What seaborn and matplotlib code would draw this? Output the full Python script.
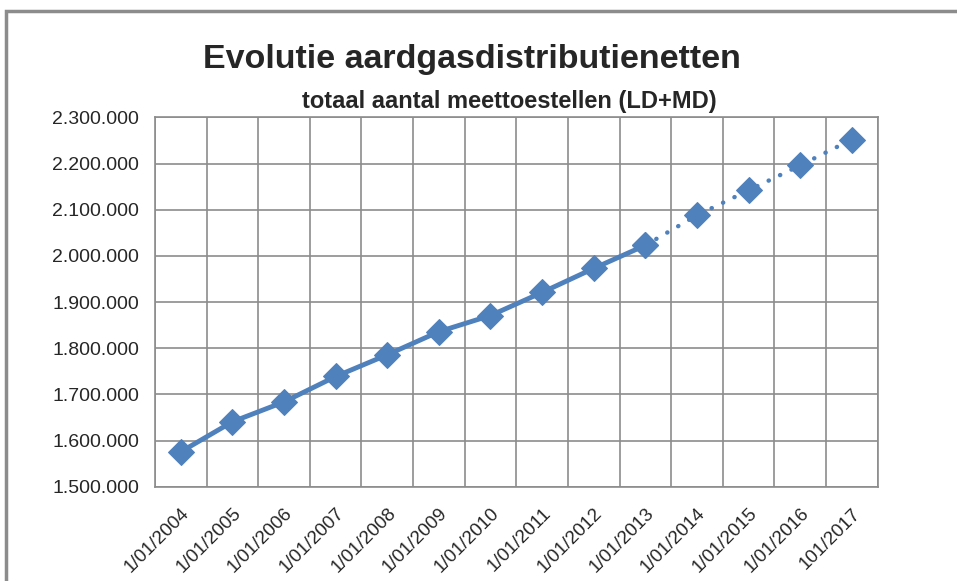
"""
Evolutie aardgasdistributienetten - totaal aantal meettoestellen (LD+MD)
"""

import matplotlib.pyplot as plt
import matplotlib.patches as patches
from matplotlib.ticker import FuncFormatter, FixedLocator
import pandas as pd
import seaborn as sns

# Data
jaren = ["1/01/2004", "1/01/2005", "1/01/2006", "1/01/2007", "1/01/2008",
         "1/01/2009", "1/01/2010", "1/01/2011", "1/01/2012", "1/01/2013",
         "1/01/2014", "1/01/2015", "1/01/2016", "101/2017"]
meettoestellen = [1576000, 1641000, 1684000, 1739000, 1786000,
                  1836000, 1871000, 1921000, 1973000, 2023000,
                  2088000, 2142000, 2196000, 2252000]
laatste_werkelijk = 9  # index 2013: daarna prognose (stippellijn)

sns.set_theme(style="white")
plt.rcParams["font.family"] = ["Liberation Sans", "DejaVu Sans"]

df = pd.DataFrame({"pos": range(len(jaren)), "jaar": jaren, "aantal": meettoestellen})
werkelijk = df[df["pos"] <= laatste_werkelijk]
prognose = df[df["pos"] >= laatste_werkelijk]

blauw = "#4F81BD"
grijs = "#8C8C8C"

fig = plt.figure(figsize=(9.57, 5.81), dpi=100)
ax = fig.add_axes([0.162, 0.162, 0.755, 0.636])

sns.lineplot(data=werkelijk, x="pos", y="aantal", ax=ax, color=blauw,
             linewidth=3.5, marker="D", markersize=13, markeredgecolor=blauw)
sns.lineplot(data=prognose, x="pos", y="aantal", ax=ax, color=blauw,
             linewidth=3.2, linestyle=(0, (0.05, 2.8)), marker="D", markersize=13,
             markeredgecolor=blauw, dash_capstyle="round")

ax.set_xlim(-0.5, len(jaren) - 0.5)
ax.set_ylim(1500000, 2300000)
ax.set_yticks(range(1500000, 2300001, 100000))
ax.yaxis.set_major_formatter(FuncFormatter(lambda v, p: f"{int(v):,}".replace(",", ".")))

# labels in het midden van de categorie, rasterlijnen tussen de categorieën
ax.set_xticks(df["pos"])
ax.set_xticklabels(jaren, rotation=45, ha="right", rotation_mode="anchor")
ax.xaxis.set_minor_locator(FixedLocator([i - 0.5 for i in range(len(jaren) + 1)]))
ax.tick_params(axis="x", which="major", length=0, pad=13, labelsize=13.5)
ax.tick_params(axis="x", which="minor", length=8, width=1.2, color=grijs)
ax.tick_params(axis="y", which="major", length=8, width=1.2, color=grijs, labelsize=14)
ax.grid(axis="y", which="major", color=grijs, linewidth=1.2)
ax.grid(axis="x", which="minor", color=grijs, linewidth=1.2)
ax.grid(axis="x", which="major", visible=False)

for spine in ax.spines.values():
    spine.set_color(grijs)
    spine.set_linewidth(1.2)

ax.set_xlabel("")
ax.set_ylabel("")

fig.text(0.493, 0.897, "Evolutie aardgasdistributienetten", ha="center", va="center",
         fontsize=24.5, fontweight="bold")
fig.text(0.532, 0.826, "totaal aantal meettoestellen (LD+MD)", ha="center", va="center",
         fontsize=17, fontweight="bold")

# kader rond de grafiek
kader = patches.Rectangle((5.5 / 957, -0.1), 1.2, 1.1 - 10.5 / 581,
                          transform=fig.transFigure, fill=False,
                          edgecolor="#8C8C8C", linewidth=2.5)
fig.patches.append(kader)

plt.savefig("out.png", dpi=100)
plt.close()
